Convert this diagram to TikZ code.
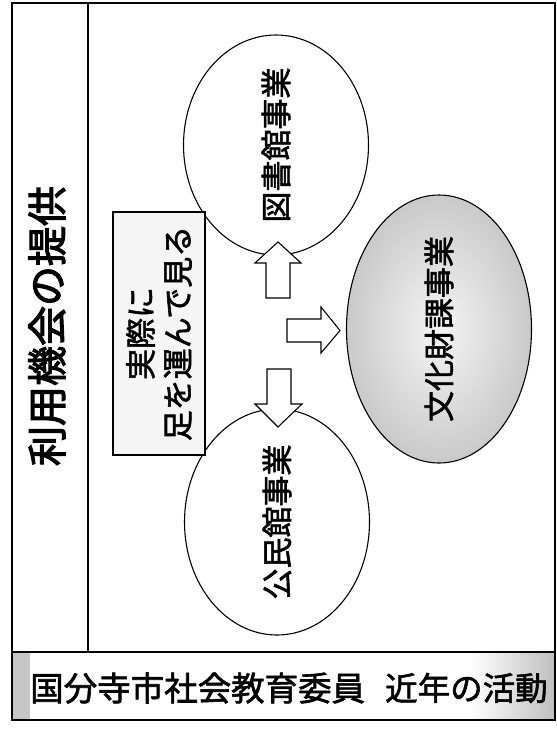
\documentclass[tikz,border=0pt]{standalone}
\usepackage{fontspec}
\newfontfamily\jp{Noto Sans CJK JP}[FakeBold=1.8]
\newfontfamily\jpb{Noto Sans CJK JP}[FakeBold=2.8]
\usetikzlibrary{shapes.geometric}
\begin{document}
\begin{tikzpicture}[x=1pt,y=-1pt,
  oval/.style={ellipse, draw, line width=1.1pt, rotate=90, inner sep=0pt,
    font=\jp\fontsize{31pt}{31pt}\selectfont},
  notebox/.style={rectangle, draw, line width=1.5pt, rotate=90, fill=gray!8,
    align=center, inner sep=0pt, font=\jp\fontsize{31pt}{37pt}\selectfont},
  blockarrow/.style={draw, line width=1.1pt, fill=white, line join=miter},
  frameline/.style={draw, line width=2.2pt},
  panel/.style={draw, line width=1.4pt}]
\useasboundingbox (0,0) rectangle (557,732);
\fill[white] (0,0) rectangle (557,732);

% footer shading
\fill[gray!45] (12,652) rectangle (30,720);
\shade[left color=white, right color=gray!50] (470,652) rectangle (555,720);

% title panel and footer panel
\draw[panel] (12,3) rectangle (88,652);
\draw[panel] (12,652) -- (555,652);

% ovals
\node[oval, minimum width=220pt, minimum height=185pt] (tosho) at (276,145) {図書館事業};
\node[oval, minimum width=226pt, minimum height=185pt] (kominkan) at (277,522) {公民館事業};
\node[oval, inner color=gray!8, outer color=gray!42, minimum width=268pt, minimum height=185pt] (bunka) at (439,329) {文化財課事業};

% note box
\node[notebox, minimum width=243pt, minimum height=92pt] (note) at (159,333.5) {実際に\\足を運んで見る};

% block arrows
\draw[blockarrow] (266,298) -- (266,263) -- (255,263) -- (278,242) -- (301,263) -- (290,263) -- (290,298) -- cycle;
\draw[blockarrow] (287,319) -- (321,319) -- (321,307) -- (340,330.5) -- (321,353) -- (321,342) -- (287,342) -- cycle;
\draw[blockarrow] (267,369) -- (291,369) -- (291,404) -- (302,404) -- (278,427) -- (255,404) -- (267,404) -- cycle;

% title
\node[font=\jpb\fontsize{40pt}{40pt}\selectfont, rotate=90] (title) at (47,326) {利用機会の提供};

% footer text
\node[font=\jp\fontsize{33.5pt}{33.5pt}\selectfont, anchor=west, inner sep=0pt] (foot1) at (30,688) {国分寺市社会教育委員};
\node[font=\jp\fontsize{32.5pt}{32.5pt}\selectfont, anchor=west, inner sep=0pt] (foot2) at (385,688) {近年の活動};

% outer frame
\draw[frameline] (12,3) rectangle (555,720);
\end{tikzpicture}
\end{document}
